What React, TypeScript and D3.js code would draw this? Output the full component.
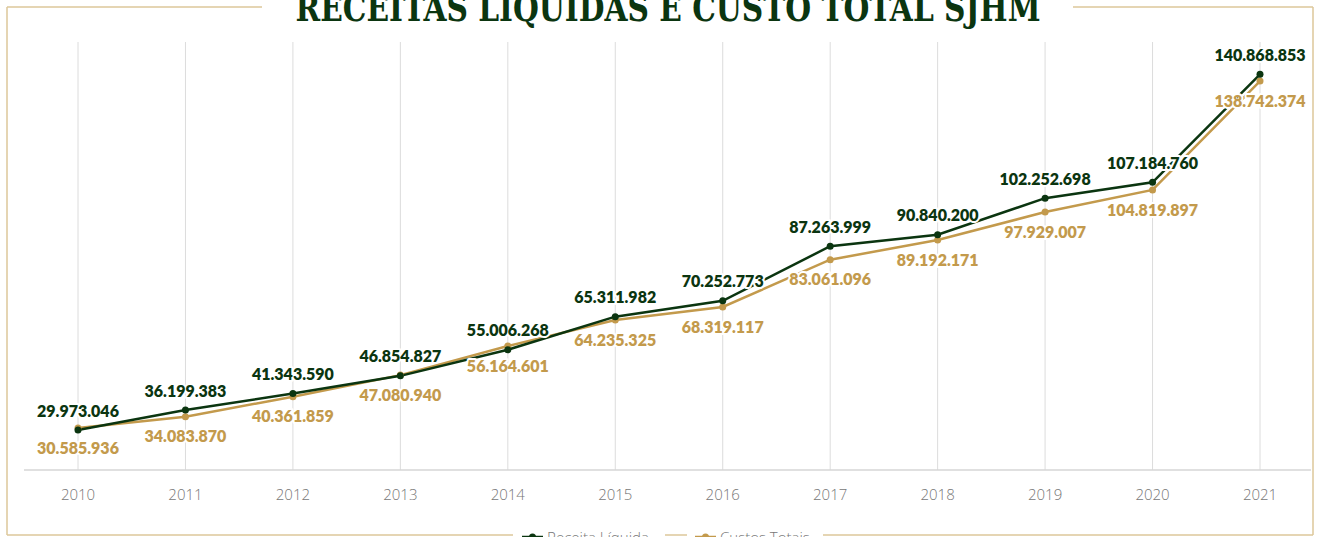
import React from "react";
import * as d3 from "d3";

const years = ["2010","2011","2012","2013","2014","2015","2016","2017","2018","2019","2020","2021"];
const receita = [29973046, 36199383, 41343590, 46854827, 55006268, 65311982, 70252773, 87263999, 90840200, 102252698, 107184760, 140868853];
const custos = [30585936, 34083870, 40361859, 47080940, 56164601, 64235325, 68319117, 83061096, 89192171, 97929007, 104819897, 138742374];
const seriesNames = ["Receita Líquida", "Custos Totais"];
const title = "RECEITAS LÍQUIDAS E CUSTO TOTAL SJHM";

const W = 1321, H = 537;
const GREEN = "#0b3510";
const GOLD = "#c39a4c";
const BORDER = "#dcc79a";

const fmt = (v: number) => d3.format(",")(v).replace(/,/g, ".");

export default function App() {
  const x = d3.scalePoint<string>().domain(years).range([78, 1260]);
  const y = d3.scaleLinear().domain([17.5e6, 150e6]).range([470, 45]);
  const line = d3.line<number>().x((_, i) => x(years[i])!).y((d) => y(d));
  const numFont = { fontFamily: "Lato, 'Open Sans', sans-serif", fontWeight: 800, fontSize: 16 } as const;
  const halo = { paintOrder: "stroke", stroke: "#fff", strokeWidth: 4, strokeLinejoin: "round" } as const;

  return (
    <svg width={W} height={H} style={{ position: "fixed", top: 0, left: 0, background: "#fff" }}>
      {/* frame */}
      <line x1={7} y1={7} x2={262} y2={7} stroke={BORDER} strokeWidth={1.5} />
      <line x1={1073} y1={7} x2={1313} y2={7} stroke={BORDER} strokeWidth={1.5} />
      <line x1={7} y1={7} x2={7} y2={535} stroke={BORDER} strokeWidth={1.5} />
      <line x1={1313} y1={7} x2={1313} y2={535} stroke={BORDER} strokeWidth={1.5} />
      <line x1={7} y1={535} x2={513} y2={535} stroke={BORDER} strokeWidth={1.5} />
      <line x1={665} y1={535} x2={687} y2={535} stroke={BORDER} strokeWidth={1.5} />
      <line x1={823} y1={535} x2={1313} y2={535} stroke={BORDER} strokeWidth={1.5} />
      <text x={668} y={21} textAnchor="middle" textLength={745} lengthAdjust="spacingAndGlyphs"
        style={{ fontFamily: "'DejaVu Serif', serif", fontWeight: 700, fontSize: 38, fill: GREEN }}>{title}</text>

      {/* grid */}
      {years.map((yr) => (
        <line key={yr} x1={x(yr)} x2={x(yr)} y1={42} y2={470} stroke="#dcdcdc" strokeWidth={1} />
      ))}
      <line x1={24} x2={1311} y1={470} y2={470} stroke="#d6d6d6" strokeWidth={1.5} />
      {years.map((yr) => (
        <text key={yr} x={x(yr)} y={500} textAnchor="middle"
          style={{ fontFamily: "'Open Sans', sans-serif", fontWeight: 300, fontSize: 15, fill: "#777" }}>{yr}</text>
      ))}

      {/* lines */}
      <path d={line(custos)!} fill="none" stroke={GOLD} strokeWidth={2.5} />
      <path d={line(receita)!} fill="none" stroke={GREEN} strokeWidth={2.5} />
      {custos.map((v, i) => <circle key={"c" + i} cx={x(years[i])} cy={y(v)} r={3.5} fill={GOLD} />)}
      {receita.map((v, i) => <circle key={"r" + i} cx={x(years[i])} cy={y(v)} r={3.5} fill={GREEN} />)}

      {/* labels */}
      {receita.map((v, i) => (
        <text key={"rl" + i} x={x(years[i])} y={y(v) - 19} dy="0.35em" textAnchor="middle"
          style={{ ...numFont, ...halo, fill: GREEN }}>{fmt(v)}</text>
      ))}
      {custos.map((v, i) => (
        <text key={"cl" + i} x={x(years[i])} y={y(v) + 20} dy="0.35em" textAnchor="middle"
          style={{ ...numFont, ...halo, fill: GOLD }}>{fmt(v)}</text>
      ))}

      {/* legend */}
      <g>
        <line x1={522} x2={543} y1={537} y2={537} stroke={GREEN} strokeWidth={2.5} />
        <circle cx={532.5} cy={537} r={3.5} fill={GREEN} />
        <text x={547} y={543} style={{ fontFamily: "'Open Sans', sans-serif", fontWeight: 300, fontSize: 15, fill: "#777" }}>{seriesNames[0]}</text>
        <line x1={695} x2={716} y1={537} y2={537} stroke={GOLD} strokeWidth={2.5} />
        <circle cx={705.5} cy={537} r={3.5} fill={GOLD} />
        <text x={720} y={543} style={{ fontFamily: "'Open Sans', sans-serif", fontWeight: 300, fontSize: 15, fill: "#777" }}>{seriesNames[1]}</text>
      </g>
    </svg>
  );
}
